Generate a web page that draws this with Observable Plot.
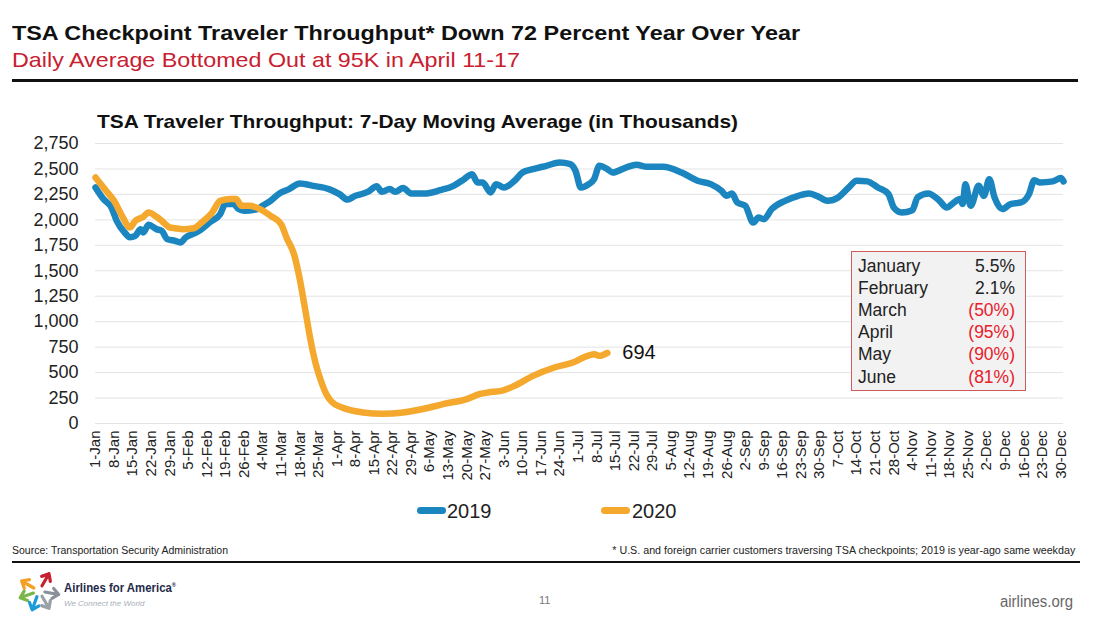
<!DOCTYPE html>
<html><head><meta charset="utf-8">
<script src="https://cdn.jsdelivr.net/npm/d3@7"></script>
<script src="https://cdn.jsdelivr.net/npm/@observablehq/plot@0.6"></script>
<style>
html,body{margin:0;padding:0;background:#fff;}
body{width:1095px;height:617px;position:relative;overflow:hidden;font-family:"Liberation Sans",Arial,sans-serif;}
.abs{position:absolute;white-space:nowrap;line-height:1;}
#chart{position:absolute;left:0;top:130px;}
#chart svg [aria-label^="x-axis"] text{font-size:15px;fill:#222;}
#chart svg [aria-label^="y-axis"] text{font-size:18px;fill:#222;}
.rule{position:absolute;background:#111;}
#box{position:absolute;left:851px;top:251px;width:173px;height:138px;background:#f2f2f2;border:1.5px solid #cd5b5b;}
.row{position:absolute;left:6px;width:157px;height:22.2px;line-height:22.2px;font-size:17.5px;color:#222;}
.row .v{position:absolute;right:0;top:0;}
.sw{position:absolute;height:7px;border-radius:4px;}
</style></head><body>

<div class="abs fit" data-w="788" style="left:12px;top:22px;font-size:21px;font-weight:bold;color:#111">TSA Checkpoint Traveler Throughput* Down 72 Percent Year Over Year</div>
<div class="abs fit" data-w="508" style="left:12px;top:49px;font-size:21px;color:#c8202f">Daily Average Bottomed Out at 95K in April 11-17</div>
<div class="rule" style="left:12px;top:79px;width:1066px;height:2.5px"></div>
<div class="abs fit" data-w="641" style="left:97px;top:112px;font-size:19px;font-weight:bold;color:#111">TSA Traveler Throughput: 7-Day Moving Average (in Thousands)</div>

<div id="chart"></div>
<div id="box"></div>
<div id="legend"></div>

<div class="abs fit" data-w="216" style="left:12px;top:546px;font-size:10px;color:#222;font-family:'Liberation Sans Narrow','Liberation Sans',Arial">Source: Transportation Security Administration</div>
<div class="abs fit" data-w="463" data-anchor="right" style="left:612px;top:546px;font-size:10px;color:#222;font-family:'Liberation Sans Narrow','Liberation Sans',Arial">* U.S. and foreign carrier customers traversing TSA checkpoints; 2019 is year-ago same weekday</div>
<div class="rule" style="left:12px;top:561px;width:1068px;height:2px"></div>

<svg class="abs" style="left:16px;top:568px" width="46" height="46" viewBox="0 0 46 46">
  <g stroke-linecap="round" stroke-linejoin="round" fill="none" stroke-width="3.2">
    <g transform="translate(23,23) rotate(-60)"><path d="M0,-6 L0,-20 M-5,-14 L0,-20 L5,-14" stroke="#f4a024"/></g>
    <g transform="translate(23,23) rotate(30)"><path d="M0,-6 L0,-20 M-5,-14 L0,-20 L5,-14" stroke="#c8202f"/></g>
    <g transform="translate(23,23) rotate(-110)"><path d="M0,-6 L0,-20 M-5,-14 L0,-20 L5,-14" stroke="#7ab648"/></g>
    <g transform="translate(23,23) rotate(100)"><path d="M0,-6 L0,-20 M-5,-14 L0,-20 L5,-14" stroke="#8a8f99"/></g>
    <g transform="translate(23,23) rotate(200)"><path d="M0,-6 L0,-20 M-5,-14 L0,-20 L5,-14" stroke="#1e9bd7"/></g>
    <g transform="translate(23,23) rotate(150)"><path d="M0,-6 L0,-20 M-5,-14 L0,-20 L5,-14" stroke="#9aa0a8"/></g>
  </g>
</svg>
<div class="abs fit" data-w="112" style="left:64px;top:582px;font-size:12px;font-weight:bold;color:#1e2a4a;font-family:'Liberation Sans Narrow','Liberation Sans',Arial">Airlines for America<sup style="font-size:6px">®</sup></div>
<div class="abs" style="left:64px;top:600px;font-size:8px;font-style:italic;color:#aab0b8">We Connect the World</div>
<div class="abs" style="left:539px;top:595px;font-size:11px;color:#777">11</div>
<div class="abs fit" data-w="73" style="left:1000px;top:594px;font-size:16px;color:#666">airlines.org</div>

<script>
// ---------- data ----------
const seriesNames = ["2019", "2020"];
const seriesColors = ["#1a85bf", "#f4a82e"];

// 2019 values aligned to the same weekday in the 2020 calendar (MM-DD), thousands
const dates2019 = ["01-01","01-04","01-07","01-09","01-12","01-14","01-16","01-18","01-19","01-21","01-24","01-26","01-28","01-31",
"02-02","02-04","02-08","02-10","02-13","02-17","02-19","02-22","02-24","02-26",
"03-02","03-04","03-07","03-10","03-14","03-18","03-23","03-29",
"04-02","04-05","04-08","04-11","04-13","04-16","04-18","04-21","04-23","04-26","04-29",
"05-04","05-10","05-15","05-19","05-22","05-24","05-26","05-29","05-31",
"06-03","06-07","06-10","06-14","06-19","06-24","06-28","06-30",
"07-02","07-05","07-07","07-09","07-12","07-14","07-19","07-23","07-27",
"08-02","08-09","08-15","08-20","08-24","08-26","08-28","08-30",
"09-02","09-05","09-07","09-09","09-12","09-17","09-22","09-26","09-29",
"10-03","10-07","10-11","10-14","10-18","10-22","10-26","10-28","10-31",
"11-04","11-06","11-10","11-14","11-17","11-19","11-22","11-23","11-24","11-26","11-29",
"12-01","12-03","12-05","12-08","12-11","12-15","12-18","12-20","12-22","12-27","12-30","12-31"];
const values2019 = [2318,2204,2121,1991,1876,1830,1843,1909,1876,1951,1909,1892,1811,1794,
1778,1827,1876,1909,1974,2056,2155,2155,2106,2090,
2106,2139,2187,2253,2302,2357,2334,2302,
2253,2200,2237,2259,2280,2330,2275,2302,2275,2312,2259,
2259,2292,2334,2400,2449,2367,2367,2269,2351,
2318,2384,2465,2498,2531,2563,2547,2482,
2318,2351,2400,2531,2498,2465,2514,2541,2521,
2521,2465,2384,2351,2286,2236,2259,2170,
2138,1974,2023,2007,2106,2187,2236,2259,2236,
2187,2220,2318,2384,2378,2318,2253,2121,2072,
2095,2220,2259,2194,2121,2155,2204,2155,2351,2138,2334,
2236,2400,2220,2106,2155,2171,2253,2390,2367,2378,2410,2378];

const dates2020 = ["01-01","01-05","01-08","01-11","01-14","01-16","01-19","01-21","01-24","01-26","01-29","01-31",
"02-03","02-07","02-10","02-14","02-17","02-21","02-23","02-25","02-28",
"03-03","03-07","03-11","03-13","03-16","03-18","03-20","03-22","03-24","03-26","03-28","03-30",
"04-03","04-11","04-18","04-26","04-29",
"05-06","05-11","05-20","05-25","05-28",
"06-02","06-07","06-14","06-22","06-29",
"07-03","07-07","07-09","07-12"];
const values2020 = [2416,2286,2187,2040,1925,1990,2030,2072,2030,1990,1925,1918,
1909,1918,1974,2072,2187,2204,2204,2139,2139,
2106,2040,1958,1827,1650,1420,1130,830,590,420,290,215,
157,108,95,108,120,
157,190,240,290,305,
320,370,468,550,599,
648,681,665,694];

const xTickLabels = ["1-Jan","8-Jan","15-Jan","22-Jan","29-Jan","5-Feb","12-Feb","19-Feb","26-Feb","4-Mar","11-Mar","18-Mar","25-Mar",
"1-Apr","8-Apr","15-Apr","22-Apr","29-Apr","6-May","13-May","20-May","27-May","3-Jun","10-Jun","17-Jun","24-Jun",
"1-Jul","8-Jul","15-Jul","22-Jul","29-Jul","5-Aug","12-Aug","19-Aug","26-Aug","2-Sep","9-Sep","16-Sep","23-Sep","30-Sep",
"7-Oct","14-Oct","21-Oct","28-Oct","4-Nov","11-Nov","18-Nov","25-Nov","2-Dec","9-Dec","16-Dec","23-Dec","30-Dec"];
const yTicks = [0,250,500,750,1000,1250,1500,1750,2000,2250,2500,2750];

const months = ["January","February","March","April","May","June"];
const yoyChange = [5.5, 2.1, -50, -95, -90, -81];

// ---------- build ----------
const parseMD = d3.utcParse("%Y-%m-%d");
const parseTick = d3.utcParse("%d-%b-%Y");
const rows2019 = dates2019.map((d, i) => ({series: seriesNames[0], date: parseMD("2020-" + d), value: values2019[i]}));
const rows2020 = dates2020.map((d, i) => ({series: seriesNames[1], date: parseMD("2020-" + d), value: values2020[i]}));
const tickDates = xTickLabels.map(l => parseTick(l + "-2020"));
const labelOf = new Map(tickDates.map((d, i) => [+d, xTickLabels[i]]));
const last2020 = rows2020[rows2020.length - 1];

const chart = Plot.plot({
  width: 1095,
  height: 370,
  marginLeft: 95,
  marginRight: 32,
  marginTop: 13,
  marginBottom: 77,
  style: {fontFamily: '"Liberation Sans", Arial, sans-serif', background: "transparent", color: "#222", overflow: "visible"},
  x: {type: "utc", domain: [parseMD("2020-01-01"), parseMD("2020-12-31")], ticks: tickDates,
      tickFormat: d => labelOf.get(+d) ?? "", tickRotate: -90, tickSize: 0, tickPadding: 7, label: null},
  y: {domain: [0, 2750], ticks: yTicks, tickFormat: d3.format(","), tickSize: 0, tickPadding: 17, label: null},
  marks: [
    Plot.ruleY(yTicks, {stroke: "#e3e3e3", strokeWidth: 1}),
    Plot.line(rows2019, {x: "date", y: "value", stroke: seriesColors[0], strokeWidth: 6.5, curve: "monotone-x"}),
    Plot.line(rows2020, {x: "date", y: "value", stroke: seriesColors[1], strokeWidth: 6.5, curve: "monotone-x"}),
    Plot.text([last2020], {x: "date", y: "value", text: d => String(d.value), dx: 15, textAnchor: "start", fontSize: 20, fill: "#111"})
  ]
});
document.getElementById("chart").appendChild(chart);

// month table
const box = document.getElementById("box");
months.forEach((m, i) => {
  const r = document.createElement("div");
  r.className = "row";
  r.style.top = (2.5 + i * 22.2) + "px";
  const v = yoyChange[i];
  const txt = v < 0 ? "(" + Math.abs(v) + "%)" : v.toFixed(1) + "%";
  r.innerHTML = `<span>${m}</span><span class="v" style="color:${v < 0 ? "#e8202a" : "#222"}">${txt}</span>`;
  box.appendChild(r);
});

// legend
const legend = document.getElementById("legend");
const legPos = [{sw: 417, tx: 447}, {sw: 601, tx: 632}];
seriesNames.forEach((s, i) => {
  const sw = document.createElement("div");
  sw.className = "sw";
  sw.style.cssText += `left:${legPos[i].sw}px;top:507px;width:29px;background:${seriesColors[i]}`;
  legend.appendChild(sw);
  const t = document.createElement("div");
  t.className = "abs";
  t.style.cssText += `left:${legPos[i].tx}px;top:501px;font-size:20px;color:#222`;
  t.textContent = s;
  legend.appendChild(t);
});

// fit text widths
document.querySelectorAll(".fit").forEach(el => {
  const w = +el.dataset.w;
  const actual = el.getBoundingClientRect().width;
  if (actual > 0) {
    const right = el.dataset.anchor === "right";
    if (right) { el.style.left = (parseFloat(el.style.left) + w - actual) + "px"; el.style.transformOrigin = "right center"; }
    else el.style.transformOrigin = "left center";
    el.style.transform = `scaleX(${w / actual})`;
  }
});
</script>
</body></html>
